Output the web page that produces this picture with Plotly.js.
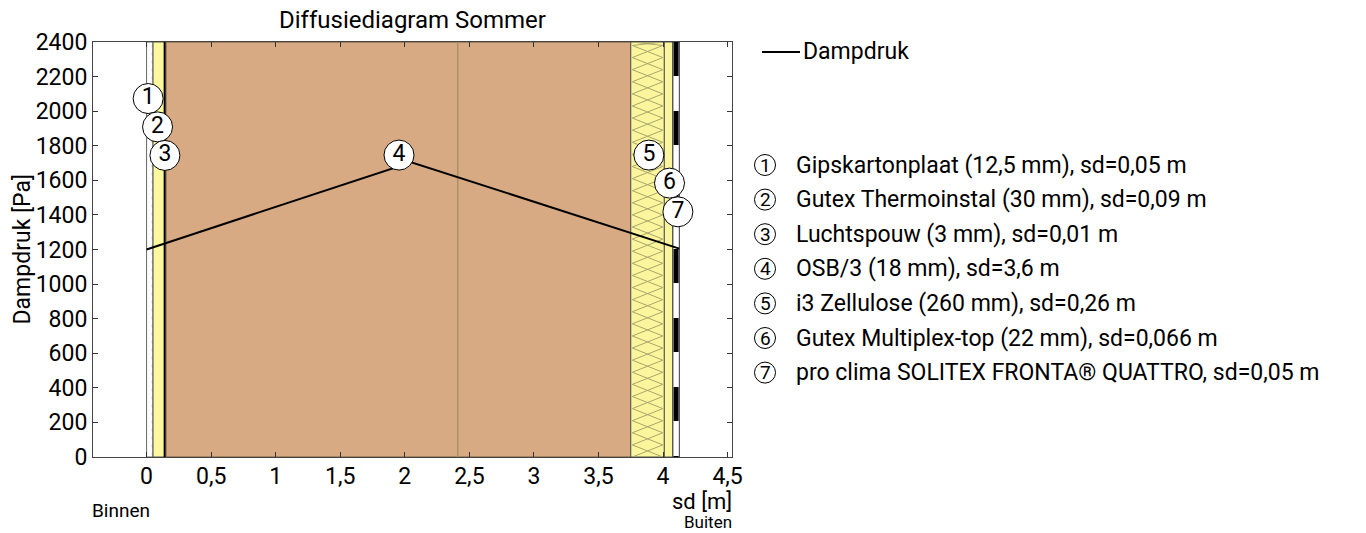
<!DOCTYPE html>
<html>
<head>
<meta charset="utf-8">
<script src="https://cdn.plot.ly/plotly-3.0.1.min.js"></script>
<style>html,body{margin:0;padding:0;background:#fff;}#chart{width:1366px;height:533px;}</style>
</head>
<body>
<div id="chart"></div>
<script>
// ---- data ----
const layerNames = ["Gipskartonplaat (12,5 mm), sd=0,05 m","Gutex Thermoinstal (30 mm), sd=0,09 m","Luchtspouw (3 mm), sd=0,01 m","OSB/3 (18 mm), sd=3,6 m","i3 Zellulose (260 mm), sd=0,26 m","Gutex Multiplex-top (22 mm), sd=0,066 m","pro clima SOLITEX FRONTA® QUATTRO, sd=0,05 m"];
const layerSd = [0.05, 0.09, 0.01, 3.6, 0.26, 0.066, 0.05];
const layerColors = ["#d9d9d9","#fcf89e","#000000","#d7aa84","#fbf69d","#fbf69d","#ffffff"];
const circleNums = ["1","2","3","4","5","6","7"];
const circleX = [0.012, 0.085, 0.142, 1.955, 3.89, 4.05, 4.115];
const circleY = [2073, 1909, 1744, 1746, 1746, 1584, 1418];
const dampSd = [0, 2.05, 4.126];
const dampPa = [1200, 1705, 1205];
const osbMarkSd = 2.41;
const xTickVals = [0, 0.5, 1, 1.5, 2, 2.5, 3, 3.5, 4, 4.5];
const xTickText = ["0","0,5","1","1,5","2","2,5","3","3,5","4","4,5"];
const yTickVals = [0,200,400,600,800,1000,1200,1400,1600,1800,2000,2200,2400];
const yMax = 2400;

// ---- derived ----
const starts = [], ends = [];
let acc = 0;
layerSd.forEach(v => { starts.push(acc); acc += v; ends.push(acc); });
const mids = starts.map((s,i) => (s+ends[i])/2);

const FONT = "Roboto, sans-serif";
const FS = 23;
// plot area in pixels (for placing paper-referenced items)
const PL = 93, PR = 732, PT = 42, PB = 457;
const px2x = p => (p - PL) / (PR - PL);
const px2y = p => 1 - (p - PT) / (PB - PT);

const traces = [];
traces.push({
  type: "bar", x: mids, y: layerSd.map(() => yMax), base: 0, width: layerSd,
  marker: {
    color: layerColors,
    line: {color: ["#666","#555","#000","#6b5a40","#555","#555","#333"], width: [1,1,2,1,1,1,1]},
    pattern: {shape: [".", "", "", "", "", "", ""], fgcolor: "#999", size: 8, solidity: 0.15}
  },
  showlegend: false, hoverinfo: "skip"
});

// insulation hatch for Zellulose (layer 4)
const zi = 4, period = 70, inset = 0.012;
const hx = [], hy = [];
[0, 1].forEach(ph => {
  for (let y = 0, k = 0; y <= yMax + period; y += period, k++) {
    const left = ((k + ph) % 2 === 0);
    hx.push(left ? starts[zi] + inset : ends[zi] - inset);
    hy.push(Math.min(y, yMax));
  }
  hx.push(null); hy.push(null);
});
traces.push({type: "scatter", mode: "lines", x: hx, y: hy, line: {color: "#aaa66a", width: 1}, showlegend: false, hoverinfo: "skip"});
// OSB marker line
traces.push({type: "scatter", mode: "lines", x: [osbMarkSd, osbMarkSd], y: [0, yMax], line: {color: "#a89466", width: 1.5}, showlegend: false, hoverinfo: "skip"});
// Solitex dashed strip
traces.push({type: "scatter", mode: "lines", x: [mids[6], mids[6]], y: [yMax, 0], line: {color: "#000", width: 5, dash: "34px,35px"}, showlegend: false, hoverinfo: "skip"});
// vapour pressure line
traces.push({type: "scatter", mode: "lines", x: dampSd, y: dampPa, name: "Dampdruk", line: {color: "#000", width: 2}, showlegend: false, hoverinfo: "skip"});
// numbered circles
traces.push({
  type: "scatter", mode: "markers+text", x: circleX, y: circleY, text: circleNums,
  textposition: "middle center", textfont: {family: FONT, size: 23, color: "#000"},
  marker: {size: 30, color: "#fff", line: {color: "#000", width: 1}},
  showlegend: false, hoverinfo: "skip", cliponaxis: false
});

const shapes = [
  {type: "line", xref: "paper", yref: "paper", x0: px2x(762), x1: px2x(800), y0: px2y(52), y1: px2y(52), line: {color: "#000", width: 2}}
];
const annotations = [
  {xref: "paper", yref: "paper", x: 0.5, y: px2y(20), yanchor: "middle", text: "Diffusiediagram Sommer", showarrow: false, font: {family: FONT, size: 24, color: "#000"}},
  {xref: "paper", yref: "paper", x: px2x(22), y: 0.5, xanchor: "center", yanchor: "middle", textangle: -90, text: "Dampdruk [Pa]", showarrow: false, font: {family: FONT, size: FS, color: "#000"}, borderpad: 0},
  {xref: "paper", yref: "paper", x: 1, xanchor: "right", y: px2y(501), yanchor: "middle", text: "sd [m]", showarrow: false, font: {family: FONT, size: 22, color: "#000"}, xshift: 1, borderpad: 0},
  {xref: "paper", yref: "paper", x: 1, xanchor: "right", y: px2y(522), yanchor: "middle", text: "Buiten", showarrow: false, font: {family: FONT, size: 17, color: "#000"}, xshift: 1, borderpad: 0},
  {xref: "paper", yref: "paper", x: 0, xanchor: "left", y: px2y(510), yanchor: "middle", text: "Binnen", showarrow: false, font: {family: FONT, size: 19, color: "#000"}, xshift: -2, borderpad: 0},
  {xref: "paper", yref: "paper", x: px2x(801), xanchor: "left", y: px2y(52), yanchor: "middle", text: "Dampdruk", showarrow: false, font: {family: FONT, size: FS, color: "#000"}}
];
const rowTop = 165, rowH = 34.6, cx = 765, r = 10.5;
layerNames.forEach((n, i) => {
  const cy = rowTop + i * rowH;
  shapes.push({type: "circle", xref: "paper", yref: "paper",
    x0: px2x(cx - r), x1: px2x(cx + r), y0: px2y(cy + r), y1: px2y(cy - r), line: {color: "#000", width: 1}});
  annotations.push({xref: "paper", yref: "paper", x: px2x(cx), y: px2y(cy), xanchor: "center", yanchor: "middle", text: circleNums[i], showarrow: false, font: {family: FONT, size: 19, color: "#000"}});
  annotations.push({xref: "paper", yref: "paper", x: px2x(794), y: px2y(cy), xanchor: "left", yanchor: "middle", text: n, showarrow: false, font: {family: FONT, size: FS, color: "#000"}});
});

const layout = {
  width: 1366, height: 533,
  margin: {l: PL, r: 1366 - PR, t: PT, b: 533 - PB},
  paper_bgcolor: "#fff", plot_bgcolor: "#fff",
  barmode: "overlay", showlegend: false,
  font: {family: FONT, size: FS, color: "#000"},
  xaxis: {range: [-0.415, 4.534], tickvals: xTickVals, ticktext: xTickText, ticks: "inside", ticklen: 5, tickcolor: "#333",
    showline: true, linecolor: "#444", linewidth: 1, mirror: "ticks", showgrid: false, zeroline: false,
    tickfont: {family: FONT, size: FS, color: "#000"}, ticklabelstandoff: -2, fixedrange: true},
  yaxis: {range: [0, 2400], tickvals: yTickVals, ticks: "inside", ticklen: 5, tickcolor: "#333",
    showline: true, linecolor: "#444", linewidth: 1, mirror: "ticks", showgrid: false, zeroline: false,
    tickfont: {family: FONT, size: FS, color: "#000"}, fixedrange: true},
  shapes: shapes,
  annotations: annotations
};

Plotly.newPlot("chart", traces, layout, {displayModeBar: false, staticPlot: true});
</script>
</body>
</html>
